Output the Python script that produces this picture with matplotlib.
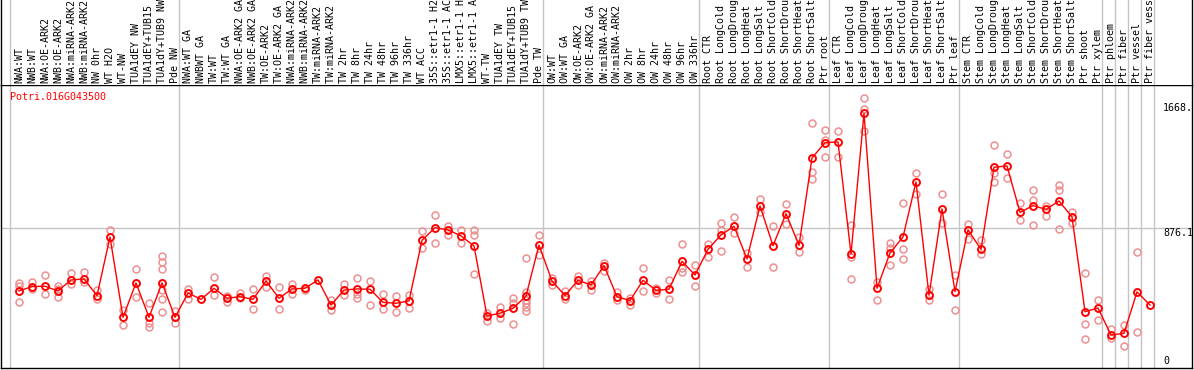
import numpy as np
import matplotlib
matplotlib.use("Agg")
import matplotlib.pyplot as plt
import matplotlib.transforms as mtransforms

# Data
GENE = "Potri.016G043500"

labels = [
    "NWA:WT", "NWB:WT", "NWA:OE-ARK2", "NWB:OE-ARK2", "NWA:miRNA-ARK2", "NWB:miRNA-ARK2",
    "NW 0hr", "WT H2O", "WT-NW", "TUA1dEY NW", "TUA1dEY+TUB15 NW", "TUA1dY+TUB9 NW", "Pde NW",
    "NWA:WT GA", "NWBWT GA", "TW:WT", "TW:WT GA", "NWA:OE-ARK2 GA", "NWB:OE-ARK2 GA",
    "TW:OE-ARK2", "TW:OE-ARK2 GA", "NWA:miRNA-ARK2 GA", "NWB:miRNA-ARK2 GA", "TW:miRNA-ARK2",
    "TW:miRNA-ARK2 GA", "TW 2hr", "TW 8hr", "TW 24hr", "TW 48hr", "TW 96hr", "TW 336hr",
    "WT ACC", "35S::etr1-1 H2O", "35S::etr1-1 ACC", "LMX5::etr1-1 H2O", "LMX5::etr1-1 ACC",
    "WT-TW", "TUA1dEY TW", "TUA1dEY+TUB15 TW", "TUA1dY+TUB9 TW", "Pde TW",
    "OW:WT", "OW:WT GA", "OW:OE-ARK2", "OW:OE-ARK2 GA", "OW:miRNA-ARK2", "OW:miRNA-ARK2 GA",
    "OW 2hr", "OW 8hr", "OW 24hr", "OW 48hr", "OW 96hr", "OW 336hr",
    "Root CTR", "Root LongCold", "Root LongDrought", "Root LongHeat", "Root LongSalt",
    "Root ShortCold", "Root ShortDrought", "Root ShortHeat", "Root ShortSalt", "Ptr root",
    "Leaf CTR", "Leaf LongCold", "Leaf LongDrought", "Leaf LongHeat", "Leaf LongSalt",
    "Leaf ShortCold", "Leaf ShortDrought", "Leaf ShortHeat", "Leaf ShortSalt", "Ptr leaf",
    "Stem CTR", "Stem LongCold", "Stem LongDrought", "Stem LongHeat", "Stem LongSalt",
    "Stem ShortCold", "Stem ShortDrought", "Stem ShortHeat", "Stem ShortSalt",
    "Ptr shoot", "Ptr xylem", "Ptr phloem", "Ptr fiber", "Ptr vessel", "Ptr fiber vessel",
]

means = [
    477, 505, 507, 477, 547, 553, 448, 819, 310, 528, 310, 528, 310,
    464, 424, 494, 431, 441, 424, 540, 431, 490, 494, 547, 388, 483, 490, 488, 405, 399,
    414, 798, 878, 864, 826, 762, 319, 336, 367, 445, 768,
    540, 448, 545, 515, 638, 441, 416, 545, 481, 488, 665, 578,
    741, 832, 887, 680, 1016, 764, 967, 766, 1320, 1417,
    1421, 711, 1603, 494, 718, 819, 1168, 450, 997, 473,
    864, 741, 1261, 1269, 975, 1018, 994, 1047, 946, 346, 369,
    198, 209, 471, 388,
]

replicates = [
    [526, 509, 407], [536, 488], [578, 456], [509, 492, 441], [591, 519], [597, 532],
    [483, 426], [864, 773], [357, 260], [614, 439], [399, 272, 251],
    [699, 659, 614, 483, 426, 344], [350, 272],
    [488, 429], [], [564, 450], [445, 410], [467, 431], [488, 363], [574, 505], [502, 363],
    [524, 456], [483], [], [420, 357], [519, 452], [557, 456, 431], [540, 388], [456, 361],
    [445, 342],
    [452, 367], [857, 752], [956, 779], [889, 832], [864, 779], [864, 832, 585],
    [340, 289], [374, 304], [431, 399, 266], [684, 469, 420, 399, 378, 350], [832, 705],
    [557, 515], [477, 426], [572, 515], [543, 483], [657, 604], [473, 420], [431, 388],
    [621, 477], [494, 462], [547, 424], [775, 621, 595], [642, 509],
    [775, 695], [910, 864, 728], [946, 842], [720, 631], [1060, 980], [889, 631],
    [1026, 902], [821, 726], [1544, 1233, 1185], [1497, 1434, 1328],
    [1493, 1328], [895, 695, 553], [1698, 1630, 1491], [536, 420], [779, 747, 642],
    [1032, 741, 680], [1227, 1092], [490, 420], [1089, 910], [578, 357],
    [899, 804], [800, 709], [1402, 1223, 1170], [1343, 1191], [1032, 927],
    [1117, 1054, 895], [1016, 952], [1149, 1117, 868], [980, 910], [589, 266, 173],
    [420, 293],
    [234, 177], [262, 129], [722, 215], [],
]

group_starts = [0, 13, 41, 53, 63, 73, 84, 85, 86, 87, 88]
ytick_values = [1668.0, 876.1, 0]
ytick_labels = ["1668.", "876.1", "0"]

# Style
W, H = 1194, 370
MONO = "DejaVu Sans Mono"
FS = 7.2
RED = "#ff0000"
PINK = "#ee9090"
GRID = "#c4c4c4"

x = np.arange(len(labels))

fig = plt.figure(figsize=(W / 100, H / 100), dpi=100)

# main plot area: pixels x 1..1192, y 85..368
ax = fig.add_axes([1 / W, (H - 368) / H, 1191 / W, 283 / H])
ax.set_xlim(-1.385, 90.23)
ax.set_ylim(-11, 1782)
ax.set_xticks([])
ax.set_yticks([])
for s in ax.spines.values():
    s.set_color("black")
    s.set_linewidth(1.0)

for g in group_starts:
    ax.axvline(g - 0.69, color=GRID, lw=1.0, zorder=1)
ax.axhline(ytick_values[1], color=GRID, lw=1.0, zorder=1)

for i, reps in enumerate(replicates):
    if reps:
        ax.plot([x[i]] * len(reps), reps, "o", mfc="none", mec=PINK, ms=5, mew=1.1, zorder=2)

ax.plot(x, means, "-", color=RED, lw=1.0, zorder=3)
ax.plot(x, means, "o", mfc="none", mec=RED, ms=5, mew=1.4, zorder=4)

trans = mtransforms.blended_transform_factory(ax.transAxes, ax.transData)
xlab = (1163 - 1) / 1191
for v, t in zip(ytick_values, ytick_labels):
    va = "bottom" if v == 0 else "top"
    ax.text(xlab, v, t, transform=trans, ha="left", va=va, family=MONO, fontsize=FS,
            color="black", clip_on=True)

fig.text(10 / W, 1 - 97 / H, GENE, color=RED, family=MONO, fontsize=FS, ha="left", va="center")

# header with rotated sample names
hx = fig.add_axes([1 / W, (H - 85) / H, 1191 / W, 85 / H])
hx.set_xlim(ax.get_xlim())
hx.set_ylim(0, 85)
hx.set_xticks([])
hx.set_yticks([])
for side in ["top", "bottom"]:
    hx.spines[side].set_visible(False)
for side in ["left", "right"]:
    hx.spines[side].set_color("black")
    hx.spines[side].set_linewidth(1.0)
for g in group_starts:
    hx.axvline(g - 0.69, color=GRID, lw=1.0)
for i, lab in enumerate(labels):
    hx.text(x[i], 2, lab, rotation=90, ha="center", va="bottom", family=MONO,
            fontsize=FS, color="black", clip_on=False)

fig.savefig("out.png", dpi=100)
